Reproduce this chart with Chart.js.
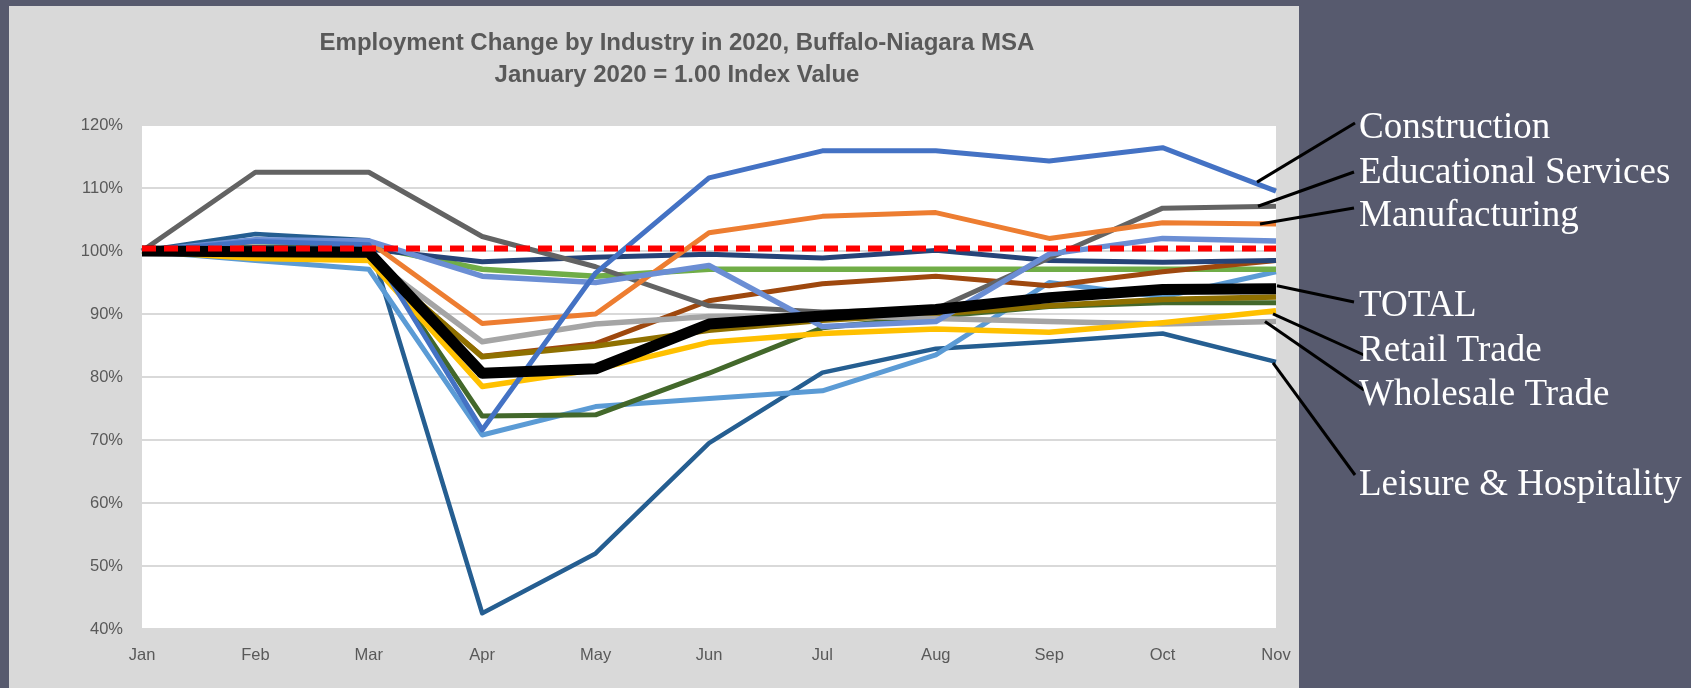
<!DOCTYPE html>
<html>
<head>
<meta charset="utf-8">
<script src="https://cdn.jsdelivr.net/npm/chart.js@4.4.1/dist/chart.umd.min.js"></script>
<style>
  html, body { margin: 0; padding: 0; background: #575A6E; overflow: hidden; }
  #wrap { width: 1691px; height: 688px; position: relative; }
</style>
</head>
<body>
<div id="wrap"><canvas id="c" width="1691" height="688"></canvas></div>
<script>
// ---- data (index, Jan 2020 = 100%) ----
const months = ["Jan","Feb","Mar","Apr","May","Jun","Jul","Aug","Sep","Oct","Nov"];
const yTicks = [40, 50, 60, 70, 80, 90, 100, 110, 120];

const construction  = [100, 101.5, 101.0, 71.6, 96.5, 111.6, 115.9, 115.9, 114.3, 116.4, 109.5];
const educational   = [100, 112.5, 112.5, 102.3, 97.5, 91.3, 90.3, 90.8, 98.9, 106.8, 107.1];
const manufacturing = [100, 101.5, 101.5, 88.5, 90.0, 102.9, 105.5, 106.1, 102.0, 104.5, 104.3];
const otherSteel    = [100, 101.8, 101.6, 96.0, 95.0, 97.7, 88.0, 88.8, 99.5, 102.0, 101.6];
const otherNavy     = [100, 100.5, 100.3, 98.3, 99.0, 99.5, 98.9, 100.1, 98.5, 98.2, 98.5];
const otherGreen    = [100, 100.6, 100.8, 97.1, 96.0, 97.1, 97.1, 97.1, 97.1, 97.1, 97.1];
const otherBrown    = [100, 99.2, 98.5, 83.3, 85.3, 92.1, 94.8, 96.0, 94.5, 96.7, 98.5];
const wholesale     = [100, 99.5, 99.0, 85.6, 88.4, 89.6, 89.8, 89.3, 88.8, 88.4, 88.8];
const otherOlive    = [100, 99.3, 98.8, 83.2, 84.9, 87.4, 89.0, 90.0, 91.3, 92.3, 92.7];
const retail        = [100, 98.8, 98.5, 78.5, 81.2, 85.5, 86.9, 87.6, 87.1, 88.6, 90.5];
const otherDkGreen  = [100, 100.5, 100.5, 73.8, 74.0, 80.6, 87.8, 89.6, 91.2, 91.8, 91.8];
const otherLtBlue   = [100, 98.5, 97.1, 70.8, 75.3, 76.6, 77.8, 83.5, 95.0, 92.7, 96.7];
const leisure       = [100, 102.7, 101.7, 42.5, 52.0, 69.5, 80.7, 84.5, 85.6, 86.9, 82.4];
const total         = [100, 99.9, 99.8, 80.6, 81.3, 88.4, 89.7, 90.7, 92.6, 93.9, 94.0];
const baseline      = [100.4, 100.4, 100.4, 100.4, 100.4, 100.4, 100.4, 100.4, 100.4, 100.4, 100.4];

const titleLines = ["Employment Change by Industry in 2020, Buffalo-Niagara MSA", "January 2020 = 1.00 Index Value"];

// callouts: dataset label -> text
const callouts = [
  { label: "Construction",           text: "Construction",           dx: -19, dy: -9, ex: 1355, ey: 123, ty: 128 },
  { label: "Educational Services",   text: "Educational Services",   dx: -18, dy: 0,  ex: 1354, ey: 172, ty: 173 },
  { label: "Manufacturing",          text: "Manufacturing",          dx: -16, dy: 0,  ex: 1354, ey: 208, ty: 216 },
  { label: "TOTAL",                  text: "TOTAL",                  dx: 1,   dy: -3, ex: 1354, ey: 302, ty: 306 },
  { label: "Retail Trade",           text: "Retail Trade",           dx: -3,  dy: 3,  ex: 1364, ey: 355, ty: 351 },
  { label: "Wholesale Trade",        text: "Wholesale Trade",        dx: -11, dy: 0,  ex: 1364, ey: 390, ty: 395 },
  { label: "Leisure & Hospitality",  text: "Leisure & Hospitality",  dx: -3,  dy: 1,  ex: 1355, ey: 475, ty: 485 }
];

function ds(label, data, color, width, extra) {
  return Object.assign({
    label, data, borderColor: color, backgroundColor: color, borderWidth: width,
    pointRadius: 0, pointHoverRadius: 0, tension: 0, fill: false,
    borderJoinStyle: 'round', borderCapStyle: 'butt'
  }, extra || {});
}

// first dataset is drawn on top
const datasets = [
  ds("Baseline (100%)", baseline, "#FF0000", 6, { borderDash: [14, 8], borderCapStyle: 'butt' }),
  ds("TOTAL", total, "#000000", 11),
  ds("Construction", construction, "#4472C4", 5),
  ds("Other industry (steel blue)", otherSteel, "#6B8ED4", 5.5),
  ds("Manufacturing", manufacturing, "#ED7D31", 5),
  ds("Educational Services", educational, "#636363", 5),
  ds("Other industry (navy)", otherNavy, "#264478", 5),
  ds("Retail Trade", retail, "#FFC000", 5.5),
  ds("Wholesale Trade", wholesale, "#A5A5A5", 5.5),
  ds("Other industry (olive)", otherOlive, "#8F7000", 5.5),
  ds("Other industry (brown)", otherBrown, "#9E480E", 5),
  ds("Other industry (dark green)", otherDkGreen, "#43682B", 5),
  ds("Other industry (green)", otherGreen, "#70AD47", 5.5),
  ds("Other industry (light blue)", otherLtBlue, "#5B9BD5", 5),
  ds("Leisure & Hospitality", leisure, "#255E91", 4.5)
];

const decor = {
  id: 'decor',
  beforeDraw(chart) {
    const ctx = chart.ctx, a = chart.chartArea;
    ctx.save();
    ctx.fillStyle = '#575A6E';
    ctx.fillRect(0, 0, chart.width, chart.height);
    ctx.fillStyle = '#D9D9D9';
    ctx.fillRect(9, 6, 1290, chart.height - 6);
    ctx.fillStyle = '#FFFFFF';
    ctx.fillRect(a.left, a.top, a.right - a.left, a.bottom - a.top);
    ctx.restore();
  },
  afterDraw(chart) {
    const ctx = chart.ctx;
    ctx.save();
    // title
    ctx.fillStyle = '#595959';
    ctx.font = 'bold 24px "Liberation Sans", Arial, sans-serif';
    ctx.textAlign = 'center';
    ctx.textBaseline = 'middle';
    ctx.fillText(titleLines[0], 677, 43);
    ctx.fillText(titleLines[1], 677, 75);
    // callouts
    const xs = chart.scales.x, ys = chart.scales.y;
    const last = months.length - 1;
    ctx.strokeStyle = '#000000';
    ctx.lineWidth = 3;
    ctx.lineCap = 'butt';
    ctx.font = '37px "Liberation Serif", "Times New Roman", serif';
    ctx.textAlign = 'left';
    ctx.textBaseline = 'middle';
    callouts.forEach(c => {
      const d = chart.data.datasets.find(s => s.label === c.label);
      const px = xs.getPixelForValue(last) + c.dx;
      const py = ys.getPixelForValue(d.data[last]) + c.dy;
      ctx.beginPath();
      ctx.moveTo(px, py);
      ctx.lineTo(c.ex, c.ey);
      ctx.stroke();
      ctx.fillStyle = '#FFFFFF';
      ctx.fillText(c.text, 1359, c.ty);
    });
    ctx.restore();
  }
};

new Chart(document.getElementById('c'), {
  type: 'line',
  data: { labels: months, datasets },
  options: {
    responsive: false,
    animation: false,
    events: [],
    layout: { padding: { top: 125, left: 0, right: 415, bottom: 0 } },
    plugins: { legend: { display: false }, title: { display: false }, tooltip: { enabled: false } },
    scales: {
      x: {
        offset: false,
        grid: { display: false, drawTicks: false },
        border: { display: false },
        ticks: { color: '#595959', font: { family: '"Liberation Sans", Arial, sans-serif', size: 16.5 }, padding: 17, maxRotation: 0, autoSkip: false },
        afterFit(s) { s.height = 59; }
      },
      y: {
        min: 40, max: 120,
        afterBuildTicks(s) { s.ticks = yTicks.map(v => ({ value: v })); },
        grid: { color: '#D9D9D9', lineWidth: 2, drawTicks: false },
        border: { display: false },
        ticks: { color: '#595959', font: { family: '"Liberation Sans", Arial, sans-serif', size: 16.5 }, padding: 19, callback: v => v + '%' },
        afterFit(s) { s.width = 142; }
      }
    }
  },
  plugins: [decor]
});
</script>
</body>
</html>
